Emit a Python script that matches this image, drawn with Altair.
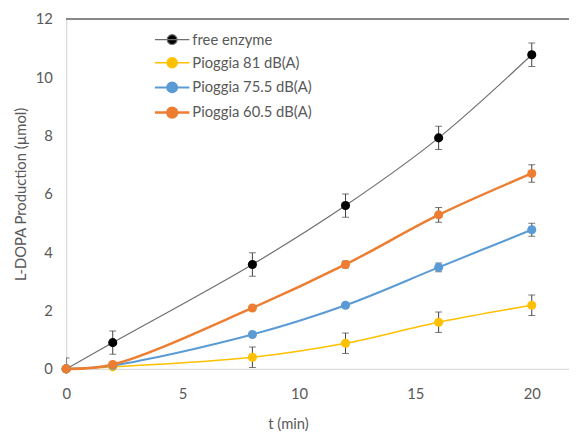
import altair as alt
import pandas as pd

times = [0, 2, 8, 12, 16, 20]
series_names = ["free enzyme", "Pioggia 81 dB(A)", "Pioggia 75.5 dB(A)", "Pioggia 60.5 dB(A)"]
free_enzyme = [0, 0.9, 3.58, 5.6, 7.92, 10.77]
free_err = [0.37, 0.4, 0.4, 0.4, 0.4, 0.4]
p81 = [0, 0.07, 0.4, 0.88, 1.6, 2.18]
p81_err = [0.05, 0.1, 0.35, 0.35, 0.35, 0.35]
p75 = [0, 0.12, 1.18, 2.18, 3.48, 4.77]
p75_err = [0, 0.05, 0.05, 0.08, 0.15, 0.22]
p60 = [0, 0.15, 2.09, 3.58, 5.28, 6.7]
p60_err = [0, 0.05, 0.06, 0.12, 0.25, 0.3]
marker_colors = ["#000000", "#FFC000", "#5B9BD5", "#ED7D31"]
line_colors = ["#6F6F6F", "#FFC000", "#5B9BD5", "#ED7D31"]
line_widths = [1.2, 2.5, 2.5, 2.5]
x_ticks = [0, 5, 10, 15, 20]
y_ticks = [0, 2, 4, 6, 8, 10, 12]

values = [free_enzyme, p81, p75, p60]
errors = [free_err, p81_err, p75_err, p60_err]
rows = []
for si, name in enumerate(series_names):
    for t, v, e in zip(times, values[si], errors[si]):
        rows.append({"series": name, "order": si, "t": t, "v": v,
                     "err": e, "lo": v - e, "hi": v + e})
df = pd.DataFrame(rows)

FONT = "Lato"
TXT = "#595959"

x_enc = alt.X("t:Q", scale=alt.Scale(domain=[0, 21.6], nice=False, zero=False),
              axis=alt.Axis(values=x_ticks, title="t (min)", grid=False, ticks=False,
                            domainColor="#D9D9D9", labelColor=TXT, titleColor=TXT,
                            labelFontSize=15, titleFontSize=15, labelFont=FONT, titleFont=FONT,
                            titleFontWeight="normal", labelPadding=18, titlePadding=15,
                            labelFlush=False, titleX=225))
y_enc = alt.Y("v:Q", scale=alt.Scale(domain=[0, 12], nice=False),
              axis=alt.Axis(values=y_ticks, title="L-DOPA Production (µmol)", grid=False,
                            ticks=False, domainColor="#D9D9D9", labelColor=TXT, titleColor=TXT,
                            labelFontSize=15, titleFontSize=15, labelFont=FONT, titleFont=FONT,
                            titleFontWeight="normal", labelPadding=14, titlePadding=7,
                            labelFlush=False))

SYMBOL = "M-1.75,0H1.75M-0.5,0A0.5,0.5,0,1,1,0.5,0A0.5,0.5,0,1,1,-0.5,0Z"


def make_legend():
    return alt.Legend(
        title=None, orient="none", legendX=96, legendY=10, padding=0,
        symbolType=SYMBOL, symbolSize=400, symbolStrokeWidth=2, labelOffset=9, rowPadding=4.5,
        labelFont=FONT, labelFontSize=15, labelColor=TXT,
    )


base = alt.Chart(df)

top_line = base.mark_rule(color="#898989", strokeWidth=2).encode(y=alt.datum(12))

lines = base.mark_line(interpolate="catmull-rom").encode(
    x=x_enc, y=y_enc,
    stroke=alt.Stroke("series:N", scale=alt.Scale(domain=series_names, range=line_colors), legend=make_legend()),
    strokeWidth=alt.StrokeWidth("series:N", scale=alt.Scale(domain=series_names, range=line_widths), legend=None),
    order=alt.Order("t:Q"),
)

err_base = base.transform_filter("datum.err > 0")
err_rules = err_base.mark_rule(color="#404040", strokeWidth=1, clip=True).encode(
    x="t:Q", y="lo:Q", y2="hi:Q")
cap_lo = err_base.mark_tick(color="#404040", orient="horizontal", size=7, thickness=1, clip=True).encode(
    x="t:Q", y="lo:Q")
cap_hi = err_base.mark_tick(color="#404040", orient="horizontal", size=7, thickness=1, clip=True).encode(
    x="t:Q", y="hi:Q")

points = base.mark_point(filled=True, size=85, opacity=1).encode(
    x="t:Q", y="v:Q",
    fill=alt.Fill("series:N", scale=alt.Scale(domain=series_names, range=marker_colors), legend=make_legend()),
    order=alt.Order("order:Q"),
)

chart = alt.layer(top_line, lines, err_rules, cap_lo, cap_hi, points).properties(
    width=510, height=355,
    autosize=alt.AutoSizeParams(type="none"),
    padding={"left": 59, "top": 8, "right": 0, "bottom": 63},
).configure_view(stroke=None).configure(background="white")

chart.save("out.html", embed_options={"renderer": "svg", "actions": False})
